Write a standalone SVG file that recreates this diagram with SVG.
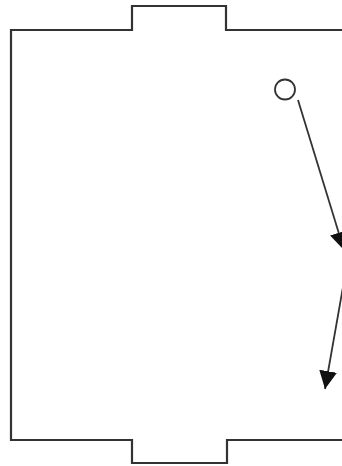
<svg xmlns="http://www.w3.org/2000/svg" width="342" height="466" viewBox="0 0 342 466">
<style>
.wall{fill:none;stroke:#333;stroke-width:2.2}
.edge{fill:none;stroke:#333;stroke-width:1.8}
.node{fill:#fff;stroke:#333;stroke-width:1.8}
</style>
<defs>
<marker id="ah" markerUnits="userSpaceOnUse" markerWidth="20" markerHeight="20" refX="18" refY="9" orient="auto">
<path d="M0,0 L18,9 L0,18 z" fill="#111"/>
</marker>
</defs>
<rect width="342" height="466" fill="#fff"/>
<g id="room">
<path class="wall" d="M345,30 H226 V6 H132 V30 H11 V440 H132 V463 H227 V440 H345"/>
</g>
<g id="start">
<circle class="node" cx="285" cy="89.5" r="10"/>
</g>
<g id="connectors">
<line class="edge" x1="298" y1="100" x2="344" y2="250" marker-end="url(#ah)"/>
<line class="edge" x1="346" y1="270" x2="325" y2="389" marker-end="url(#ah)"/>
</g>
</svg>
